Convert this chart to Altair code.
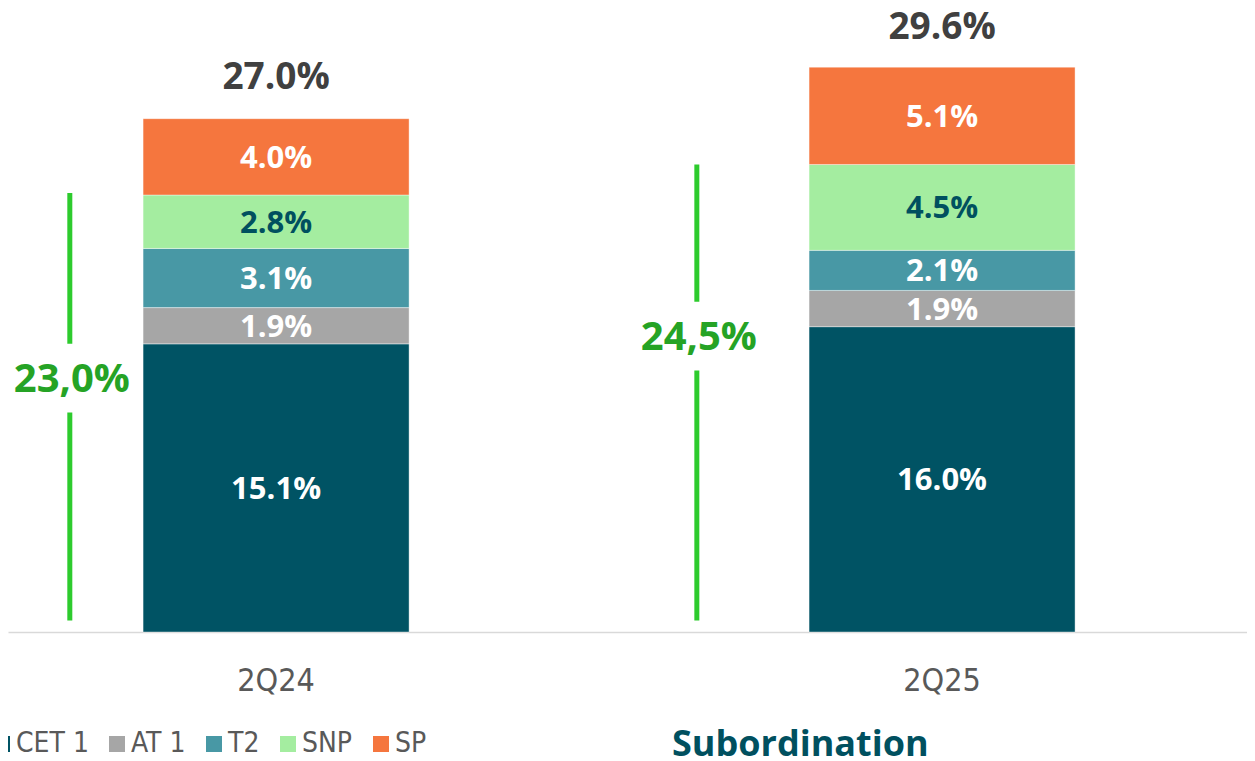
import altair as alt
import pandas as pd

# ---- data ----
periods = ["2Q24", "2Q25"]
components = ["CET 1", "AT 1", "T2", "SNP", "SP"]
cet1 = [15.1, 16.0]
at1 = [1.9, 1.9]
t2 = [3.1, 2.1]
snp = [2.8, 4.5]
sp = [4.0, 5.1]
totals = [27.0, 29.6]
total_labels = ["27.0%", "29.6%"]
subordination = [23.0, 24.5]
subordination_labels = ["23,0%", "24,5%"]

# ---- styling / layout ----
comp_colors = ["#005364", "#A6A6A6", "#4898A5", "#A4EDA0", "#F5763E"]
green_line = "#2DCB2D"
green_text = "#25A325"
teal_text = "#00505F"
thin_font = "'DejaVu Sans Condensed', 'Liberation Sans Narrow', Roboto, sans-serif"
label_gap_center = [13.3, 15.5]   # where the green label sits along its line (% units)
gap_half = 1.8
line_start = 0.6

W, H = 1239, 624

rows = []
series = [cet1, at1, t2, snp, sp]
for i, p in enumerate(periods):
    for k, c in enumerate(components):
        v = series[k][i]
        rows.append({"period": p, "component": c, "value": v, "order": k,
                     "label": f"{v:.1f}%"})
df = pd.DataFrame(rows)

df_tot = pd.DataFrame({"period": periods, "total": totals, "label": total_labels})

df_sub = pd.DataFrame({
    "period": periods,
    "sub": subordination,
    "label": subordination_labels,
    "pos": label_gap_center,
    "series": ["Subordination"] * 2,
})
df_sub["start"] = line_start
df_sub["gap_lo"] = df_sub["pos"] - gap_half
df_sub["gap_hi"] = df_sub["pos"] + gap_half

yscale = alt.Scale(domain=[0, 32.7], nice=False, zero=True)
xscale = alt.Scale(type="band", domain=periods, paddingInner=0.6006,
                   paddingOuter=0.2305, align=0.44)

x_axis = alt.Axis(title=None, labelAngle=0, ticks=False, tickSize=0,
                  domain=True, domainColor="#D9D9D9", domainWidth=1.5,
                  labelFont=thin_font, labelFontSize=32,
                  labelColor="#595959", labelPadding=33, grid=False)

bars = alt.Chart(df).mark_bar(stroke="white", strokeWidth=0.4).encode(
    x=alt.X("period:N", scale=xscale, axis=x_axis),
    y=alt.Y("value:Q", stack="zero", scale=yscale, axis=None),
    color=alt.Color("component:N",
                    scale=alt.Scale(domain=components, range=comp_colors),
                    legend=alt.Legend(orient="none", legendX=-20, legendY=722,
                                      direction="horizontal", title=None,
                                      symbolType="square", symbolSize=256,
                                      symbolStrokeWidth=0, labelOffset=0,
                                      columnPadding=14, padding=0,
                                      labelFont=thin_font,
                                      labelFontSize=28, labelColor="#595959")),
    order=alt.Order("order:Q"),
)

bar_labels = alt.Chart(df).transform_stack(
    stack="value", groupby=["period"], sort=[alt.SortField("order")],
    as_=["y0", "y1"]
).transform_calculate(mid="(datum.y0 + datum.y1) / 2").mark_text(
    font="Open Sans", fontWeight="bold", fontSize=31, baseline="middle", align="center", dy=2
).encode(
    x=alt.X("period:N", scale=xscale, axis=None),
    y=alt.Y("mid:Q", scale=yscale, axis=None),
    text="label:N",
    color=alt.condition("datum.component == 'SNP'", alt.value(teal_text), alt.value("white")),
)

tot_text = alt.Chart(df_tot).mark_text(
    font="Open Sans", fontWeight="bold", fontSize=37, baseline="middle",
    align="center", dy=-39, color="#404040"
).encode(
    x=alt.X("period:N", scale=xscale, axis=None),
    y=alt.Y("total:Q", scale=yscale, axis=None),
    text="label:N",
)

gscale = alt.Scale(type="point", domain=periods, padding=0.488, align=0.101)
stroke_enc = alt.Stroke("series:N",
                        scale=alt.Scale(domain=["Subordination"], range=[green_line]),
                        legend=alt.Legend(orient="none", legendX=628, legendY=719,
                                          title=None, symbolSize=0, symbolOpacity=0,
                                          symbolStrokeWidth=0, labelOffset=0, padding=0,
                                          labelLimit=500,
                                          labelFont="Open Sans", labelFontWeight="bold",
                                          labelFontSize=36, labelColor=teal_text))

g_low = alt.Chart(df_sub).mark_rule(strokeWidth=5).encode(
    x=alt.X("period:N", scale=gscale, axis=None),
    y=alt.Y("start:Q", scale=yscale, axis=None),
    y2="gap_lo:Q",
    stroke=stroke_enc,
)
g_high = alt.Chart(df_sub).mark_rule(strokeWidth=5).encode(
    x=alt.X("period:N", scale=gscale, axis=None),
    y=alt.Y("gap_hi:Q", scale=yscale, axis=None),
    y2="sub:Q",
    stroke=stroke_enc,
)
g_text = alt.Chart(df_sub).mark_text(
    font="Open Sans", fontWeight="bold", fontSize=40, baseline="middle",
    align="center", color=green_text, dx=2, dy=2
).encode(
    x=alt.X("period:N", scale=gscale, axis=None),
    y=alt.Y("pos:Q", scale=yscale, axis=None),
    text="label:N",
)

chart = alt.layer(
    bars, bar_labels, tot_text, g_low, g_high, g_text,
).resolve_scale(x="independent").properties(
    width=W, height=H,
    autosize=alt.AutoSizeParams(type="none"),
    padding={"left": 0, "top": 0, "right": 0, "bottom": 129},
).configure_view(stroke=None)

chart.save("out.html", embed_options={"renderer": "svg", "actions": False})
